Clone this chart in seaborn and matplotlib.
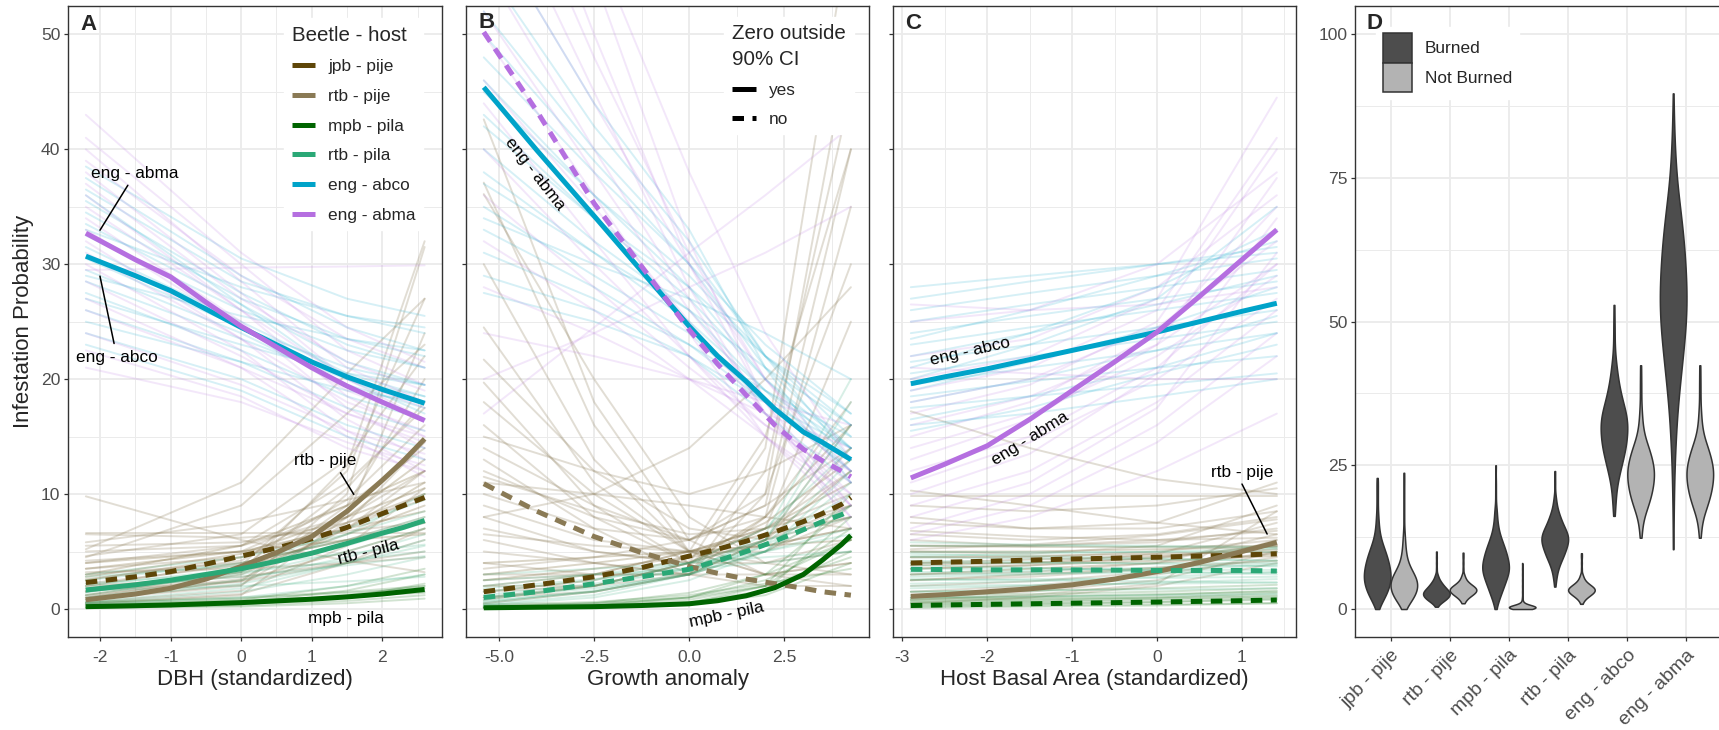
import numpy as np
import pandas as pd
import matplotlib
matplotlib.use("Agg")
import matplotlib.pyplot as plt
import seaborn as sns
from matplotlib.lines import Line2D
from matplotlib.patches import Patch

# ============================ DATA ============================
groups = ["jpb - pije", "rtb - pije", "mpb - pila", "rtb - pila", "eng - abco", "eng - abma"]
group_colors = ["#5e4608", "#8a7a55", "#006400", "#2aa876", "#00a3c9", "#b56fe0"]
draw_alpha = [0.22, 0.25, 0.18, 0.18, 0.16, 0.16]

# ---- Panel A: DBH (standardized) ----
A_x = [-2.2, -1.5, -1.0, -0.5, 0.0, 0.5, 1.0, 1.5, 2.0, 2.3, 2.6]
A_jpb_pije = [2.3, 2.8, 3.25, 3.9, 4.6, 5.3, 6.1, 7.1, 8.3, 9.0, 9.7]
A_rtb_pije = [0.8, 1.3, 1.8, 2.6, 3.7, 4.9, 6.3, 8.5, 11.2, 12.9, 14.8]
A_mpb_pila = [0.2, 0.28, 0.35, 0.45, 0.55, 0.7, 0.85, 1.05, 1.3, 1.5, 1.7]
A_rtb_pila = [1.65, 2.1, 2.5, 3.0, 3.5, 4.15, 4.85, 5.7, 6.6, 7.1, 7.7]
A_eng_abco = [30.7, 29.0, 27.7, 26.1, 24.5, 23.0, 21.5, 20.2, 19.1, 18.5, 17.9]
A_eng_abma = [32.7, 30.4, 28.9, 26.7, 24.6, 22.8, 21.0, 19.4, 18.0, 17.2, 16.4]
A_sig = ["no", "yes", "yes", "yes", "yes", "yes"]

A_draw_x = [-2.2, 0.0, 1.5, 2.6]
A_draws_jpb_pije = [[1.5, 3.5, 6.5, 9.0], [2.5, 4.5, 7.5, 10.0], [3.5, 5.0, 7.0, 8.5], [1.0, 3.0, 7.0, 11.0],
                    [2.0, 4.0, 6.0, 7.5], [3.0, 5.5, 9.0, 12.0], [0.8, 2.5, 5.0, 7.0], [4.0, 5.0, 6.0, 6.5],
                    [1.2, 3.2, 8.0, 13.0], [2.8, 4.8, 8.0, 10.5]]
A_draws_rtb_pije = [[9.8, 6.0, 4.2, 3.2], [6.6, 6.6, 6.6, 6.6], [6.5, 6.2, 6.8, 7.5], [5.5, 5.8, 7.5, 9.5],
                    [5.0, 5.5, 8.0, 12.0], [4.6, 6.5, 13.0, 22.0], [4.2, 5.0, 9.0, 14.0], [3.5, 4.5, 7.0, 10.0],
                    [3.0, 4.0, 6.0, 8.0], [2.6, 4.2, 9.5, 16.0], [2.2, 3.8, 12.0, 27.0], [1.8, 3.2, 12.5, 32.0],
                    [1.5, 3.5, 10.5, 18.0], [1.2, 2.6, 7.0, 12.0], [1.0, 2.4, 9.0, 20.0], [0.8, 2.0, 10.0, 31.5],
                    [0.6, 1.6, 5.5, 10.5], [0.5, 1.3, 4.0, 7.0], [0.4, 1.2, 8.0, 24.0], [2.0, 2.8, 4.0, 5.0],
                    [3.2, 3.5, 4.0, 4.5], [1.6, 2.4, 4.0, 6.0], [0.9, 2.1, 7.5, 14.5], [5.8, 7.5, 9.5, 11.0],
                    [4.0, 5.5, 11.0, 17.5], [4.5, 9.0, 17.0, 23.0], [5.2, 11.0, 20.5, 27.0]]
A_draws_mpb_pila = [[0.1, 0.3, 0.7, 1.2], [0.2, 0.5, 1.0, 1.5], [0.3, 0.6, 1.2, 2.0], [0.1, 0.4, 1.0, 2.2],
                    [0.4, 0.7, 1.1, 1.4], [0.2, 0.6, 1.6, 3.0], [0.5, 0.9, 1.4, 1.8], [0.1, 0.2, 0.5, 0.9],
                    [0.3, 0.8, 2.0, 3.5], [0.6, 1.0, 1.5, 2.0]]
A_draws_rtb_pila = [[0.5, 1.5, 3.0, 4.5], [1.0, 2.5, 4.5, 6.5], [1.5, 3.0, 5.0, 7.0], [2.0, 3.5, 5.5, 7.5],
                    [2.5, 4.0, 6.0, 8.0], [3.0, 4.5, 6.5, 8.5], [1.2, 3.2, 6.5, 10.0], [0.8, 2.2, 4.0, 5.5],
                    [1.8, 2.8, 3.8, 4.6], [2.2, 3.2, 4.2, 5.0], [0.6, 1.8, 4.0, 6.0], [1.4, 3.6, 7.0, 9.5],
                    [2.8, 3.8, 4.8, 5.6], [0.4, 1.0, 2.0, 3.0], [1.6, 2.0, 2.4, 2.8]]
A_draws_eng_abco = [[38.5, 30.5, 27.0, 25.5], [37.5, 29.0, 24.5, 22.5], [36.5, 28.5, 25.5, 24.5],
                    [35.5, 27.5, 23.0, 21.0], [34.5, 27.0, 23.5, 22.0], [33.5, 26.5, 21.5, 19.5],
                    [32.5, 26.0, 22.5, 21.0], [31.5, 25.0, 20.5, 18.5], [30.5, 24.5, 21.0, 19.5],
                    [29.5, 24.0, 19.5, 17.5], [28.5, 23.5, 20.0, 18.5], [27.5, 22.5, 18.5, 16.5],
                    [27.0, 23.0, 20.5, 19.5], [26.0, 21.5, 17.5, 15.5], [25.0, 21.5, 19.0, 18.0],
                    [24.0, 20.0, 16.0, 14.0], [23.0, 19.0, 15.0, 13.0], [33.0, 28.0, 25.5, 24.0],
                    [29.0, 25.5, 23.5, 22.5], [36.0, 26.5, 20.0, 17.0]]
A_draws_eng_abma = [[43.0, 31.0, 24.5, 21.5], [41.0, 30.0, 22.5, 19.5], [40.0, 28.5, 21.0, 18.0],
                    [39.0, 29.0, 23.5, 21.0], [38.0, 27.5, 20.0, 16.5], [37.0, 27.0, 21.5, 19.0],
                    [36.0, 26.0, 18.5, 15.0], [35.0, 26.0, 20.0, 17.5], [34.0, 25.0, 17.5, 14.0],
                    [33.0, 24.5, 19.0, 16.5], [32.0, 23.5, 16.5, 13.0], [31.0, 23.5, 18.0, 15.5],
                    [30.0, 22.5, 15.5, 12.0], [29.5, 29.7, 29.8, 29.9], [28.5, 22.0, 17.0, 14.5],
                    [27.0, 21.0, 15.0, 11.5], [26.0, 21.0, 17.0, 15.0], [24.0, 19.5, 15.5, 13.5],
                    [22.5, 18.5, 14.0, 12.0], [21.0, 18.0, 14.5, 12.5]]

# ---- Panel B: Growth anomaly ----
B_x = [-5.4, -4.0, -2.5, -1.25, 0.0, 0.75, 1.5, 2.25, 3.0, 3.5, 4.0, 4.25]
B_jpb_pije = [1.5, 2.1, 2.8, 3.6, 4.6, 5.2, 5.9, 6.7, 7.6, 8.3, 9.1, 9.7]
B_rtb_pije = [10.9, 8.5, 6.3, 4.9, 3.7, 3.1, 2.6, 2.2, 1.8, 1.5, 1.3, 1.2]
B_mpb_pila = [0.1, 0.15, 0.2, 0.3, 0.45, 0.72, 1.15, 1.85, 3.0, 4.25, 5.6, 6.4]
B_rtb_pila = [1.0, 1.5, 2.2, 2.8, 3.45, 4.2, 5.0, 5.9, 6.9, 7.6, 8.2, 8.6]
B_eng_abco = [45.4, 39.9, 34.2, 29.4, 24.6, 22.0, 19.8, 17.4, 15.4, 14.5, 13.5, 13.0]
B_eng_abma = [50.2, 43.3, 35.3, 29.8, 24.3, 21.3, 18.6, 16.0, 13.9, 12.9, 12.0, 11.5]
B_sig = ["no", "no", "yes", "no", "yes", "no"]

B_draw_x = [-5.4, -2.5, 0.0, 2.0, 4.25]
B_draws_jpb_pije = [[1, 2, 4, 7, 11], [2, 3, 5, 7, 9], [0.5, 1.5, 3, 6, 12], [3, 4, 5, 6.5, 8],
                    [1.5, 2.5, 4.5, 7.5, 13], [2.5, 3.5, 4.5, 5.5, 7], [0.8, 2, 4, 8, 16], [4, 4.5, 5, 5.5, 6]]
B_draws_rtb_pije = [[42.6, 18, 6, 3, 3], [37.1, 16, 5, 3, 4], [36.1, 20, 8, 4, 3], [30, 13, 5, 4, 6],
                    [24.5, 11, 5, 5, 9], [21.7, 12, 7, 6, 8], [19.7, 9, 4, 6, 14], [16, 8, 4, 7, 25],
                    [14, 9, 6, 9, 40], [12, 8, 6, 8, 18], [10, 7, 6, 10, 30], [9, 6, 5, 7, 12],
                    [8, 5, 4, 6, 9], [7, 5, 4, 4, 5], [6, 4, 3, 3, 4], [5, 4, 3, 5, 8],
                    [4, 3, 3, 6, 16], [3, 3, 3, 8, 35], [2, 2, 3, 10, 50], [1.5, 2, 4, 14, 60],
                    [1, 1.5, 3, 12, 45], [2.5, 3, 5, 15, 40], [3.5, 4.5, 6, 9, 14], [6.5, 5.5, 5, 5.5, 7],
                    [11, 10, 9, 8, 7], [15, 12, 10, 12, 16], [8, 10, 14, 20, 28], [13, 7, 3, 2, 2],
                    [18, 10, 5, 3, 2], [11.5, 8.5, 6.5, 7, 10]]
B_draws_mpb_pila = [[0.1, 0.2, 0.5, 1.5, 5], [0.1, 0.3, 0.8, 2, 7], [0.2, 0.4, 1, 2.5, 6], [0.1, 0.2, 0.4, 1.2, 4],
                    [0.3, 0.5, 1, 2, 4.5], [0.1, 0.3, 1, 3, 9], [0.2, 0.3, 0.6, 1.6, 8], [0.4, 0.6, 1.2, 2.2, 3.5],
                    [0.1, 0.2, 0.5, 2, 10], [0.2, 0.5, 1.4, 3, 6]]
B_draws_rtb_pila = [[0.5, 1.5, 3, 5, 9], [1, 2, 3.5, 5.5, 10], [1.5, 2.5, 4, 6, 8], [0.8, 2, 4, 7, 14],
                    [2, 3, 4, 5, 7], [0.3, 1, 2.5, 5, 12], [1.2, 2.2, 3.5, 6, 18], [2.5, 3, 3.5, 4, 5],
                    [0.6, 1.6, 3.2, 6.5, 20], [1.8, 2.6, 3.6, 5, 6.5], [0.4, 1.2, 3, 6, 16], [3, 3.5, 4, 4.5, 5],
                    [1, 1.8, 3, 5, 11], [0.7, 1.5, 3, 5.5, 13]]
B_draws_eng_abco = [[52, 40, 31, 22, 15], [50, 39, 30, 21, 14], [48, 38, 30, 23, 17], [46, 36, 28, 20, 13],
                    [45, 36, 29, 22, 16], [43, 34, 27, 20, 14], [42, 34, 28, 22, 17], [40, 32, 26, 19, 12],
                    [38, 31, 25, 19, 14], [37, 31, 26, 21, 16], [35, 29, 24, 18, 12], [33, 28, 23, 18, 13],
                    [31, 27, 23, 19, 15], [29, 26, 22, 17, 11], [27.5, 25, 22, 18, 14], [56, 42, 32, 22, 13],
                    [60, 44, 33, 21, 11], [34, 30, 27, 24, 20]]
B_draws_eng_abma = [[75, 50, 30, 18, 9], [70, 48, 31, 20, 12], [65, 45, 28, 17, 8], [60, 44, 30, 20, 11],
                    [56, 40, 27, 17, 9], [52, 38, 26, 18, 12], [50, 36, 24, 15, 8], [46, 35, 25, 17, 10],
                    [44, 32, 22, 15, 9], [40, 30, 22, 16, 11], [36, 28, 21, 16, 12], [32, 26, 20, 15, 10],
                    [28, 24, 20, 17, 14], [24, 22, 20, 18, 16], [17, 24.5, 31, 36, 42], [20, 24, 28, 31, 35],
                    [85, 55, 32, 18, 7], [80, 58, 38, 24, 13]]

# ---- Panel C: Host basal area (standardized) ----
C_x = [-2.9, -2.5, -2.0, -1.5, -1.0, -0.5, 0.0, 0.5, 1.0, 1.41]
C_jpb_pije = [4.0, 4.07, 4.15, 4.25, 4.35, 4.42, 4.5, 4.6, 4.7, 4.8]
C_rtb_pije = [1.1, 1.25, 1.5, 1.75, 2.1, 2.6, 3.25, 4.05, 5.0, 5.8]
C_mpb_pila = [0.3, 0.35, 0.4, 0.45, 0.5, 0.55, 0.6, 0.66, 0.72, 0.78]
C_rtb_pila = [3.45, 3.43, 3.4, 3.4, 3.4, 3.38, 3.35, 3.35, 3.35, 3.3]
C_eng_abco = [19.6, 20.2, 20.9, 21.7, 22.5, 23.3, 24.1, 25.0, 25.9, 26.6]
C_eng_abma = [11.4, 12.6, 14.2, 16.5, 19.0, 21.5, 24.1, 27.2, 30.4, 33.0]
C_sig = ["no", "yes", "no", "no", "yes", "yes"]

C_draw_x = [-2.9, -1.5, 0.0, 1.41]
C_draws_jpb_pije = [[3.5, 3.8, 4.2, 4.6], [4.5, 4.6, 4.8, 5.0], [3.0, 3.5, 4.0, 4.8], [5.0, 5.0, 5.2, 5.4],
                    [4.0, 4.3, 4.6, 5.2], [2.5, 3.0, 3.6, 4.2], [5.5, 5.4, 5.4, 5.5], [3.8, 4.0, 4.4, 5.6]]
C_draws_rtb_pije = [[17.2, 14.0, 11.3, 10.0], [10.3, 9.0, 7.5, 6.5], [9.8, 9.8, 9.8, 9.8], [9.0, 8.5, 9.0, 10.5],
                    [8.0, 7.0, 7.0, 8.5], [7.5, 7.0, 7.5, 11.0], [6.5, 6.0, 6.5, 8.0], [6.0, 5.5, 5.8, 7.0],
                    [5.5, 5.5, 6.0, 6.8], [5.0, 4.8, 5.5, 9.0], [4.5, 4.5, 5.0, 6.0], [4.0, 4.0, 4.8, 7.5],
                    [3.5, 3.8, 4.5, 5.5], [3.0, 3.2, 4.0, 6.5], [2.5, 2.8, 3.5, 5.0], [2.0, 2.4, 3.2, 6.0],
                    [1.5, 2.0, 3.0, 4.5], [1.0, 1.5, 2.5, 5.0], [0.8, 1.2, 2.2, 8.5], [0.5, 1.0, 2.0, 4.0],
                    [6.8, 6.3, 6.0, 6.2], [5.2, 5.6, 6.4, 7.8]]
C_draws_mpb_pila = [[0.2, 0.3, 0.4, 0.5], [0.4, 0.5, 0.6, 0.8], [0.6, 0.7, 0.9, 1.1], [0.8, 0.9, 1.0, 1.2],
                    [1.0, 1.1, 1.3, 1.5], [0.3, 0.4, 0.6, 0.9], [0.5, 0.6, 0.8, 1.0], [1.2, 1.3, 1.5, 1.8],
                    [0.1, 0.2, 0.3, 0.5], [0.7, 0.8, 1.0, 1.4], [1.5, 1.6, 1.8, 2.1], [0.9, 1.0, 1.2, 1.6]]
C_draws_rtb_pila = [[5.5, 5.5, 5.4, 5.3], [5.0, 5.0, 5.0, 5.0], [4.5, 4.4, 4.3, 4.2], [4.0, 4.0, 4.0, 4.0],
                    [3.5, 3.5, 3.4, 3.4], [3.0, 3.1, 3.1, 3.2], [2.5, 2.6, 2.7, 2.8], [2.0, 2.1, 2.2, 2.3],
                    [1.5, 1.6, 1.7, 1.8], [1.0, 1.1, 1.2, 1.3], [3.8, 3.6, 3.3, 3.0], [2.8, 3.0, 3.4, 3.8],
                    [4.8, 4.6, 4.4, 4.2], [2.2, 2.4, 2.8, 3.2], [5.8, 5.6, 5.5, 5.4], [4.2, 4.1, 3.9, 3.7],
                    [3.2, 3.3, 3.6, 3.9], [1.8, 2.0, 2.3, 2.6], [2.6, 2.5, 2.4, 2.3], [4.6, 4.8, 5.0, 5.2]]
C_draws_eng_abco = [[28.0, 29.0, 30.0, 31.0], [27.0, 28.5, 30.0, 31.5], [26.0, 27.5, 29.0, 30.5],
                    [25.0, 26.5, 28.0, 29.5], [24.0, 25.5, 27.0, 28.5], [23.5, 26.0, 29.0, 32.0],
                    [23.0, 24.5, 26.0, 27.5], [22.0, 24.0, 26.5, 29.0], [21.5, 23.0, 24.5, 26.0],
                    [21.0, 24.0, 28.0, 33.0], [20.5, 22.0, 23.5, 25.0], [20.0, 23.0, 27.0, 35.0],
                    [19.5, 21.0, 22.5, 24.0], [19.0, 21.5, 24.5, 28.0], [18.5, 19.8, 21.0, 22.0],
                    [18.0, 20.0, 22.5, 25.5], [17.5, 18.5, 19.5, 20.5], [16.5, 18.5, 21.0, 24.0],
                    [16.0, 17.0, 18.5, 20.0], [15.5, 17.5, 20.5, 23.0]]
C_draws_eng_abma = [[26.5, 26.0, 26.5, 28.0], [25.0, 26.0, 30.0, 38.0], [22.0, 23.5, 28.0, 36.0],
                    [20.0, 22.0, 27.0, 44.5], [19.0, 21.0, 26.0, 41.0], [18.0, 20.0, 24.5, 32.0],
                    [17.0, 19.5, 25.0, 40.0], [16.0, 18.5, 23.0, 30.0], [15.0, 18.0, 24.0, 35.0],
                    [14.0, 17.0, 22.0, 29.0], [13.0, 16.5, 23.0, 37.5], [12.0, 15.0, 21.0, 30.0],
                    [11.0, 14.5, 20.0, 27.0], [10.0, 13.5, 20.5, 34.0], [9.0, 12.0, 18.0, 26.0],
                    [8.0, 11.0, 17.5, 31.0], [7.0, 10.0, 16.0, 24.0], [6.5, 9.0, 14.5, 22.0],
                    [6.0, 8.0, 12.0, 17.0], [21.0, 20.5, 20.0, 20.0]]

# ---- Panel D: infestation (%) by fire status: values and how often each occurs ----
fire_levels = ["Burned", "Not Burned"]
fire_colors = ["#4d4d4d", "#b3b3b3"]
D_burned_vals = [
    [0, 1, 2, 3, 4, 5, 6, 7, 8, 9, 10, 11, 12, 13, 14, 15, 16, 17, 18, 19, 20, 21, 22, 22.8],
    [0.4, 1, 1.5, 2, 2.5, 3, 3.5, 4, 4.5, 5, 5.5, 6, 7, 8, 9, 10],
    [0, 1, 2, 3, 4, 5, 6, 7, 8, 9, 10, 11, 12, 13, 14, 15, 16, 17, 18, 20, 22, 25],
    [3.9, 5, 6, 7, 8, 9, 10, 11, 12, 13, 14, 15, 16, 17, 18, 19, 20, 22, 24],
    [16.2, 18, 20, 22, 24, 26, 28, 30, 32, 34, 36, 38, 40, 42, 44, 46, 48, 50, 52.9],
    [10.4, 14, 18, 22, 26, 30, 34, 38, 42, 46, 50, 54, 58, 62, 66, 70, 74, 78, 82, 86, 89.7],
]
D_burned_counts = [
    [2, 6, 11, 15, 18, 20, 20, 19, 17, 15, 12, 9, 6, 4, 3, 2, 2, 1, 1, 1, 1, 1, 1, 1],
    [2, 6, 12, 17, 20, 19, 15, 11, 8, 5, 3, 2, 1, 1, 1, 1],
    [1, 3, 6, 9, 12, 15, 18, 20, 19, 17, 15, 12, 9, 6, 4, 3, 2, 2, 1, 1, 1, 1],
    [1, 2, 3, 5, 8, 12, 15, 18, 20, 19, 15, 11, 8, 5, 3, 2, 1, 1, 1],
    [1, 2, 3, 5, 9, 13, 17, 19, 20, 18, 13, 9, 6, 4, 2, 1, 1, 1, 1],
    [1, 1, 2, 3, 5, 8, 12, 18, 25, 32, 38, 40, 38, 34, 28, 20, 12, 7, 4, 2, 1],
]
D_notburned_vals = [
    [0, 1, 2, 3, 4, 5, 6, 7, 8, 9, 10, 11, 12, 13, 14, 16, 18, 20, 22, 23.7],
    [1.0, 1.5, 2, 2.5, 3, 3.5, 4, 4.5, 5, 5.5, 6, 7, 8, 9, 9.8],
    [0.0, 0.1, 0.2, 0.3, 0.4, 0.5, 0.7, 1.0, 1.5, 2.0, 3.0, 4.0, 5.0, 6.0, 7.0, 8.0],
    [0.9, 1.5, 2, 2.5, 3, 3.5, 4, 4.5, 5, 5.5, 6, 7, 8, 9, 9.7],
    [12.4, 14, 16, 18, 20, 22, 24, 26, 28, 30, 32, 34, 36, 38, 40, 42.4],
    [12.4, 14, 16, 18, 20, 22, 24, 26, 28, 30, 32, 34, 36, 38, 40, 42.4],
]
D_notburned_counts = [
    [2, 8, 14, 18, 20, 19, 15, 10, 6, 4, 3, 2, 2, 1, 1, 1, 1, 1, 1, 1],
    [2, 4, 8, 14, 19, 20, 15, 9, 5, 3, 2, 1, 1, 1, 1],
    [6, 14, 19, 20, 18, 14, 8, 4, 2, 1, 1, 1, 1, 1, 1, 1],
    [2, 4, 8, 14, 19, 20, 15, 9, 5, 3, 2, 1, 1, 1, 1],
    [1, 2, 5, 11, 16, 19, 20, 17, 12, 6, 3, 2, 1, 1, 1, 1],
    [1, 2, 5, 11, 16, 19, 20, 17, 12, 6, 3, 2, 1, 1, 1, 1],
]

A_xticks = [-2, -1, 0, 1, 2]
B_xticks = [-5.0, -2.5, 0.0, 2.5]
B_xticklabels = ["-5.0", "-2.5", "0.0", "2.5"]
C_xticks = [-3, -2, -1, 0, 1]
P_yticks = [0, 10, 20, 30, 40, 50]
D_yticks = [0, 25, 50, 75, 100]

# ============================ STYLE ============================
sns.set_theme(style="white")
plt.rcParams["font.family"] = ["Liberation Sans", "DejaVu Sans"]
plt.rcParams["axes.unicode_minus"] = False

W, H = 1719, 730
fig = plt.figure(figsize=(W / 100, H / 100), dpi=100)
fig.patch.set_facecolor("white")


def add_ax(l, r, t=6, b=637):
    return fig.add_axes([l / W, (H - b) / H, (r - l) / W, (b - t) / H])


axA = add_ax(68, 442)
axB = add_ax(466, 869)
axC = add_ax(893, 1296)
axD = add_ax(1355, 1722)

TICK_FS = 12.6
TITLE_FS = 16
TXT_FS = 12.4
GRID_C = "#ebebeb"
MAIN_LW = 3.6
DASHES = (2.3, 1.7)


def style_axes(ax, xlim, ylim, xmaj, xmin_, ymaj, ymin_, show_ylabels=True):
    ax.set_xlim(*xlim)
    ax.set_ylim(*ylim)
    ax.set_xticks(xmaj)
    ax.set_xticks(xmin_, minor=True)
    ax.set_yticks(ymaj)
    ax.set_yticks(ymin_, minor=True)
    ax.grid(True, which="major", color=GRID_C, lw=1.3, zorder=0)
    ax.grid(True, which="minor", color=GRID_C, lw=0.7, zorder=0)
    ax.set_axisbelow(True)
    for s in ax.spines.values():
        s.set_color("#333333")
        s.set_linewidth(1.0)
        s.set_visible(True)
    ax.tick_params(which="major", direction="out", length=3.0, width=0.9, color="#333333",
                   labelcolor="#4d4d4d", labelsize=TICK_FS, pad=2.6, bottom=True, left=True)
    ax.tick_params(axis="x", which="major", pad=6.0)
    ax.tick_params(which="minor", length=0)
    if not show_ylabels:
        ax.tick_params(axis="y", labelleft=False)


def draws_df(xs, draws):
    rows = []
    for i, d in enumerate(draws):
        for x, v in zip(xs, d):
            rows.append({"x": x, "p": v, "draw": i})
    return pd.DataFrame(rows)


def draw_panel(ax, draw_x, draw_sets, mx, means, sig):
    for g, dset in enumerate(draw_sets):
        df = draws_df(draw_x, dset)
        sns.lineplot(data=df, x="x", y="p", units="draw", estimator=None, color=group_colors[g],
                     alpha=draw_alpha[g], lw=1.4, ax=ax, legend=False, zorder=2)
    for g, vals in enumerate(means):
        df = pd.DataFrame({"x": mx, "p": vals})
        sns.lineplot(data=df, x="x", y="p", color=group_colors[g], lw=MAIN_LW, ax=ax,
                     legend=False, zorder=4)
        ln = ax.lines[-1]
        if sig[g] == "no":
            ln.set_dashes(DASHES)
        ln.set_solid_capstyle("butt")
        ln.set_dash_capstyle("butt")
        ln.set_solid_joinstyle("round")
    ax.set_xlabel("")
    ax.set_ylabel("")


# ---- Panel A ----
draw_panel(axA, A_draw_x,
           [A_draws_jpb_pije, A_draws_rtb_pije, A_draws_mpb_pila, A_draws_rtb_pila, A_draws_eng_abco, A_draws_eng_abma],
           A_x, [A_jpb_pije, A_rtb_pije, A_mpb_pila, A_rtb_pila, A_eng_abco, A_eng_abma], A_sig)
style_axes(axA, (-2.453, 2.846), (-2.44, 52.47), A_xticks, [-1.5, -0.5, 0.5, 1.5, 2.5],
           P_yticks, [5, 15, 25, 35, 45])
axA.set_xticklabels([str(t) for t in A_xticks])
axA.set_xlabel("DBH (standardized)", fontsize=TITLE_FS, labelpad=3.5)
axA.set_ylabel("Infestation Probability", fontsize=TITLE_FS, labelpad=5)

# ---- Panel B ----
draw_panel(axB, B_draw_x,
           [B_draws_jpb_pije, B_draws_rtb_pije, B_draws_mpb_pila, B_draws_rtb_pila, B_draws_eng_abco, B_draws_eng_abma],
           B_x, [B_jpb_pije, B_rtb_pije, B_mpb_pila, B_rtb_pila, B_eng_abco, B_eng_abma], B_sig)
style_axes(axB, (-5.867, 4.726), (-2.44, 52.47), B_xticks, [-3.75, -1.25, 1.25, 3.75],
           P_yticks, [5, 15, 25, 35, 45], show_ylabels=False)
axB.set_xticklabels(B_xticklabels)
axB.set_xlabel("Growth anomaly", fontsize=TITLE_FS, labelpad=3.5)

# ---- Panel C ----
draw_panel(axC, C_draw_x,
           [C_draws_jpb_pije, C_draws_rtb_pije, C_draws_mpb_pila, C_draws_rtb_pila, C_draws_eng_abco, C_draws_eng_abma],
           C_x, [C_jpb_pije, C_rtb_pije, C_mpb_pila, C_rtb_pila, C_eng_abco, C_eng_abma], C_sig)
style_axes(axC, (-3.11, 1.636), (-2.44, 52.47), C_xticks, [-2.5, -1.5, -0.5, 0.5, 1.5],
           P_yticks, [5, 15, 25, 35, 45], show_ylabels=False)
axC.set_xticklabels([str(t) for t in C_xticks])
axC.set_xlabel("Host Basal Area (standardized)", fontsize=TITLE_FS, labelpad=3.5)

# ---- Panel D ----
rows = []
for g, bv, bc, nv, nc in zip(groups, D_burned_vals, D_burned_counts, D_notburned_vals, D_notburned_counts):
    rows += [{"group": g, "fire": fire_levels[0], "value": v} for v in np.repeat(bv, bc)]
    rows += [{"group": g, "fire": fire_levels[1], "value": v} for v in np.repeat(nv, nc)]
dfD = pd.DataFrame(rows)
sns.violinplot(data=dfD, x="group", y="value", hue="fire", order=groups, hue_order=fire_levels,
               palette=dict(zip(fire_levels, fire_colors)), inner=None, cut=0, density_norm="width",
               width=0.9, gap=0, linewidth=1.1, linecolor="#333333", saturation=1, bw_adjust=0.7,
               ax=axD, legend=False)
axD.set_xlabel("")
axD.set_ylabel("")
style_axes(axD, (-0.6, 5.6), (-4.87, 104.9), list(range(len(groups))), [],
           D_yticks, [12.5, 37.5, 62.5, 87.5])
axD.set_xticklabels(groups, rotation=45, ha="right", rotation_mode="anchor", fontsize=14)
axD.tick_params(axis="x", pad=4.0)
axD.xaxis.grid(True, which="major", color=GRID_C, lw=1.3)

# ============================ LEGENDS ============================
legA = axA.legend(handles=[Line2D([], [], color=c, lw=MAIN_LW, solid_capstyle="butt") for c in group_colors],
                  labels=groups, title="Beetle - host", loc="upper left", bbox_to_anchor=(0.555, 0.995),
                  fontsize=TXT_FS, alignment="left", handlelength=1.35,
                  handletextpad=0.75, labelspacing=0.85, borderpad=0.45, frameon=True, fancybox=False,
                  facecolor="white", edgecolor="white", framealpha=1)
legA.get_title().set_fontsize(14.8)
legA.set_zorder(10)

legB = axB.legend(handles=[Line2D([], [], color="black", lw=MAIN_LW, solid_capstyle="butt"),
                           Line2D([], [], color="black", lw=MAIN_LW, dashes=DASHES, dash_capstyle="butt")],
                  labels=["yes", "no"], title="Zero outside\n90% CI", loc="upper left",
                  bbox_to_anchor=(0.62, 0.997), fontsize=TXT_FS, alignment="left",
                  handlelength=1.4, handletextpad=0.75, labelspacing=0.8, borderpad=0.45, frameon=True,
                  fancybox=False, facecolor="white", edgecolor="white", framealpha=1)
legB.get_title().set_fontsize(14.8)
legB.get_title().set_linespacing(1.45)
legB.set_zorder(10)

legD = axD.legend(handles=[Patch(facecolor=c, edgecolor="#333333", lw=1.1) for c in fire_colors],
                  labels=fire_levels, loc="upper left", bbox_to_anchor=(0.035, 0.981), fontsize=TXT_FS,
                  handlelength=1.69, handleheight=2.22, handletextpad=0.7, labelspacing=0.05,
                  borderpad=0.4, frameon=True, fancybox=False, facecolor="white", edgecolor="white",
                  framealpha=1)
legD.set_zorder(10)

# ============================ ANNOTATIONS ============================
def label(ax, x, y, s, rot=0):
    ax.text(x, y, s, fontsize=TXT_FS, color="black", ha="center", va="center", rotation=rot,
            rotation_mode="anchor", zorder=6)


def seg(ax, x0, y0, x1, y1):
    ax.plot([x0, x1], [y0, y1], color="black", lw=1.1, zorder=6)


label(axA, -1.506, 37.9, "eng - abma")
seg(axA, -1.605, 36.87, -2.0, 32.96)
label(axA, -1.76, 21.9, "eng - abco")
seg(axA, -1.80, 23.1, -2.0, 28.96)
label(axA, 1.186, 12.9, "rtb - pije")
seg(axA, 1.408, 11.85, 1.596, 9.97)
label(axA, 1.80, 4.98, "rtb - pila", rot=14)
label(axA, 1.49, -0.8, "mpb - pila")

label(axB, -4.055, 37.9, "eng - abma", rot=-52)
label(axB, 0.98, -0.52, "mpb - pila", rot=12)

label(axC, -2.2, 22.4, "eng - abco", rot=13)
label(axC, -1.496, 14.84, "eng - abma", rot=32)
label(axC, 0.997, 11.85, "rtb - pije")
seg(axC, 1.0, 10.87, 1.296, 6.52)

for ax, s, x, y in [(axA, "A", 0.032, 0.962), (axB, "B", 0.0305, 0.9647),
                    (axC, "C", 0.0298, 0.963), (axD, "D", 0.0305, 0.963)]:
    ax.text(x, y, s, transform=ax.transAxes, fontsize=16, fontweight="bold", va="baseline",
            ha="left", zorder=12)

fig.savefig("out.png", dpi=100, facecolor="white")
